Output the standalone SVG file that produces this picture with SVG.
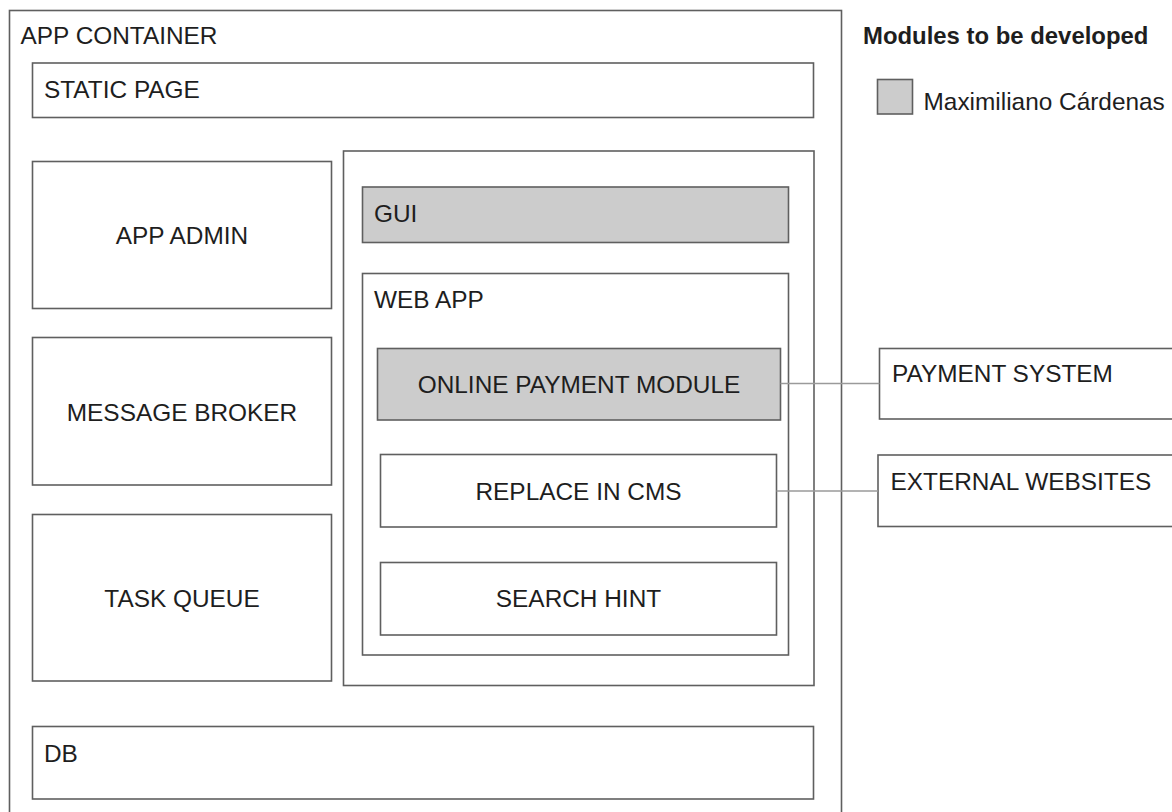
<svg xmlns="http://www.w3.org/2000/svg" width="1172" height="812" viewBox="0 0 1172 812">
<style>
.b{fill:#ffffff;stroke:#5f5f5f;stroke-width:1.6}
.g{fill:#cccccc;stroke:#5f5f5f;stroke-width:1.6}
.t{font-family:"Liberation Sans",Arial,sans-serif;font-size:24.4px;fill:#1e1e1e}
.c{text-anchor:middle}
.h{font-weight:bold;font-size:23.9px}
.k{fill:none;stroke:#9a9a9a;stroke-width:1.6}
</style>
<rect width="1172" height="812" fill="#ffffff"/>
<g id="app-container">
<rect class="b" x="9.5" y="10.5" width="832" height="820"/>
<text class="t" x="20.5" y="44">APP CONTAINER</text>
</g>
<g id="static-page">
<rect class="b" x="32.5" y="63" width="781" height="54.5"/>
<text class="t" x="44" y="97.5">STATIC PAGE</text>
</g>
<g id="app-admin">
<rect class="b" x="32.5" y="161.5" width="299" height="147"/>
<text class="t c" x="182" y="243.5">APP ADMIN</text>
</g>
<g id="message-broker">
<rect class="b" x="32.5" y="337.5" width="299" height="147.5"/>
<text class="t c" x="182" y="420.5">MESSAGE BROKER</text>
</g>
<g id="task-queue">
<rect class="b" x="32.5" y="514.5" width="299" height="166.5"/>
<text class="t c" x="182" y="606.5">TASK QUEUE</text>
</g>
<g id="gui-container">
<rect class="b" x="343.5" y="151" width="470.5" height="534.5"/>
</g>
<g id="gui">
<rect class="g" x="362.5" y="187" width="426" height="55.5"/>
<text class="t" x="374" y="221.5">GUI</text>
</g>
<g id="web-app">
<rect class="b" x="362.5" y="273.5" width="426" height="381.5"/>
<text class="t" x="374" y="307.5">WEB APP</text>
</g>
<g id="online-payment-module">
<rect class="g" x="377.5" y="348.5" width="403" height="71.5"/>
<text class="t c" x="579" y="393">ONLINE PAYMENT MODULE</text>
</g>
<g id="replace-in-cms">
<rect class="b" x="380.5" y="454.5" width="396" height="72.5"/>
<text class="t c" x="578.5" y="500">REPLACE IN CMS</text>
</g>
<g id="search-hint">
<rect class="b" x="380.5" y="562.5" width="396" height="72.5"/>
<text class="t c" x="578.5" y="606.5">SEARCH HINT</text>
</g>
<g id="db">
<rect class="b" x="32.5" y="726.5" width="781" height="72.5"/>
<text class="t" x="44" y="762">DB</text>
</g>
<g id="payment-system">
<rect class="b" x="879.5" y="348.5" width="310" height="70.5"/>
<text class="t" x="892" y="382">PAYMENT SYSTEM</text>
</g>
<g id="external-websites">
<rect class="b" x="878" y="455" width="310" height="71.5"/>
<text class="t" x="890.5" y="489.5">EXTERNAL WEBSITES</text>
</g>
<g id="connectors">
<line class="k" x1="780.5" y1="383.5" x2="879.5" y2="383.5"/>
<line class="k" x1="776.5" y1="491" x2="878" y2="491"/>
</g>
<g id="legend">
<text class="t h" x="863" y="43.5">Modules to be developed</text>
<rect class="g" x="877.5" y="79.5" width="35" height="34.5"/>
<text class="t" x="923.5" y="110">Maximiliano Cárdenas</text>
</g>
</svg>
